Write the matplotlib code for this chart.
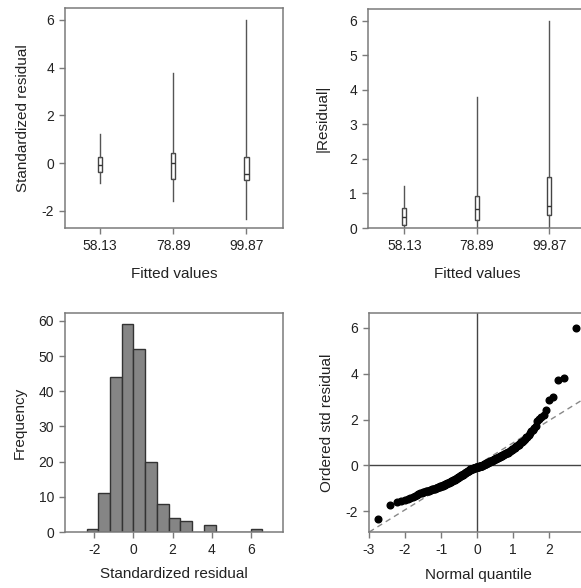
import statistics
import numpy as np
import matplotlib
matplotlib.use("Agg")
import matplotlib.pyplot as plt

# Residual diagnostics: values
fitted_labels = ["58.13", "78.89", "99.87"]

# standardized residual by fitted value (box stats)
std_whislo = [-0.84, -1.60, -2.34]
std_q1 = [-0.39, -0.68, -0.71]
std_med = [-0.08, -0.01, -0.46]
std_q3 = [0.26, 0.41, 0.26]
std_whishi = [1.20, 3.78, 5.97]

# |residual| by fitted value (box stats)
abs_whislo = [0.0, 0.0, 0.0]
abs_q1 = [0.08, 0.22, 0.38]
abs_med = [0.32, 0.55, 0.65]
abs_q3 = [0.58, 0.94, 1.49]
abs_whishi = [1.23, 3.79, 6.00]

# ordered standardized residuals (205 values)
residuals = [
    -2.32,
    -1.73, -1.59, -1.57, -1.50, -1.45, -1.41, -1.37, -1.33, -1.29, -1.25, -1.21,
    -1.19, -1.17, -1.16, -1.14, -1.13, -1.11, -1.10, -1.08, -1.07, -1.05,
    -1.04, -1.03, -1.01, -1.00, -0.99, -0.97, -0.96, -0.95, -0.93, -0.92,
    -0.91, -0.89, -0.88, -0.87, -0.85, -0.84, -0.83, -0.81, -0.80, -0.79,
    -0.77, -0.76, -0.75, -0.73, -0.72, -0.71, -0.69, -0.68, -0.67, -0.66,
    -0.65, -0.64, -0.62, -0.61,
    -0.59, -0.58, -0.56, -0.55, -0.54, -0.52, -0.51, -0.50, -0.48, -0.47,
    -0.46, -0.44, -0.43, -0.42, -0.40, -0.39, -0.38, -0.36, -0.35, -0.34,
    -0.32, -0.31, -0.30, -0.28, -0.27, -0.26, -0.24, -0.23, -0.22, -0.20,
    -0.19, -0.18, -0.17,
    -0.16, -0.15, -0.15, -0.14, -0.13, -0.13, -0.12, -0.11, -0.11, -0.10,
    -0.09, -0.09, -0.08, -0.07, -0.07, -0.06, -0.05, -0.05, -0.04, -0.04,
    -0.03, -0.03, -0.02, -0.02, -0.01, -0.01,
    0.01, 0.02, 0.03, 0.04, 0.05, 0.06, 0.07, 0.08, 0.09, 0.10,
    0.11, 0.12, 0.13, 0.14, 0.15, 0.16, 0.17, 0.18, 0.19, 0.20,
    0.21, 0.22, 0.23, 0.24, 0.25, 0.26, 0.27, 0.28, 0.29, 0.30,
    0.31, 0.32, 0.34, 0.35, 0.36, 0.38, 0.39, 0.40, 0.42, 0.43,
    0.44, 0.46, 0.47, 0.48, 0.50, 0.51, 0.52, 0.54, 0.55, 0.56, 0.58, 0.59,
    0.62, 0.64, 0.66, 0.68, 0.71, 0.73, 0.75, 0.78, 0.80, 0.83,
    0.86, 0.88, 0.91, 0.94, 0.97, 1.00, 1.04, 1.08, 1.12, 1.17,
    1.22, 1.26, 1.32, 1.40, 1.48, 1.56, 1.65, 1.74,
    1.93, 2.04, 2.12, 2.20,
    2.41, 2.86, 2.97,
    3.73, 3.82,
    6.01,
]
bin_edges = [-2.4, -1.8, -1.2, -0.6, 0.0, 0.6, 1.2, 1.8, 2.4, 3.0, 3.6, 4.2,
             4.8, 5.4, 6.0, 6.6]

# dashed reference line on the normal plot
ref_intercept = 0.01
ref_slope = 0.975

plt.rcParams["font.family"] = ["Liberation Sans", "DejaVu Sans"]
plt.rcParams["axes.unicode_minus"] = False

frame_col = "#7a7a7a"
text_col = "#222222"

fig = plt.figure(figsize=(5.81, 5.88), dpi=100)
ax1 = fig.add_axes([0.1119, 0.6122, 0.3752, 0.3741])
ax2 = fig.add_axes([0.6334, 0.6122, 0.3744, 0.3724])
ax3 = fig.add_axes([0.1119, 0.0952, 0.3752, 0.3724])
ax4 = fig.add_axes([0.6351, 0.0952, 0.3752, 0.3724])

for ax in [ax1, ax2, ax3, ax4]:
    for sp in ax.spines.values():
        sp.set_color(frame_col)
        sp.set_linewidth(1.1)
    ax.tick_params(direction="out", length=4, width=1, color=frame_col,
                   labelcolor=text_col, labelsize=10, pad=4)


def box_stats(lo, q1, med, q3, hi):
    stats = []
    for i in range(len(med)):
        stats.append({"whislo": lo[i], "q1": q1[i], "med": med[i],
                      "q3": q3[i], "whishi": hi[i], "fliers": []})
    return stats


box_kw = dict(positions=[1, 2, 3], widths=0.06, showcaps=False, patch_artist=True,
              boxprops=dict(facecolor="white", edgecolor="#444444", linewidth=1),
              whiskerprops=dict(color="#555555", linewidth=1),
              medianprops=dict(color="#333333", linewidth=1))

# Standardized residual vs fitted
ax1.bxp(box_stats(std_whislo, std_q1, std_med, std_q3, std_whishi), **box_kw)
ax1.set_xlim(0.52, 3.5)
ax1.set_ylim(-2.72, 6.49)
ax1.set_xticks([1, 2, 3], fitted_labels)
ax1.set_yticks([-2, 0, 2, 4, 6])
ax1.set_xlabel("Fitted values", fontsize=11, color=text_col, labelpad=10)
ax1.set_ylabel("Standardized residual", fontsize=11, color=text_col, labelpad=8)

# |Residual| vs fitted
ax2.bxp(box_stats(abs_whislo, abs_q1, abs_med, abs_q3, abs_whishi), **box_kw)
ax2.set_xlim(0.5, 3.5)
ax2.set_ylim(0, 6.34)
ax2.set_xticks([1, 2, 3], fitted_labels)
ax2.set_yticks([0, 1, 2, 3, 4, 5, 6])
ax2.set_xlabel("Fitted values", fontsize=11, color=text_col, labelpad=10)
ax2.set_ylabel("|Residual|", fontsize=11, color=text_col, labelpad=14)

# Histogram
ax3.hist(residuals, bins=bin_edges, color="#858585", edgecolor="#333333", linewidth=1)
ax3.set_xlim(-3.5, 7.65)
ax3.set_ylim(0, 62.2)
ax3.set_xticks([-2, 0, 2, 4, 6])
ax3.set_yticks([0, 10, 20, 30, 40, 50, 60])
ax3.set_xlabel("Standardized residual", fontsize=11, color=text_col, labelpad=7)
ax3.set_ylabel("Frequency", fontsize=11, color=text_col, labelpad=8)

# Normal plot
n = len(residuals)
nd = statistics.NormalDist()
quantiles = [nd.inv_cdf((i + 1 - 0.375) / (n + 0.25)) for i in range(n)]
ax4.axhline(0, color="#444444", linewidth=1)
ax4.axvline(0, color="#444444", linewidth=1)
ax4.axline((0, ref_intercept), slope=ref_slope, color="#888888", linewidth=1,
           linestyle=(0, (4, 3)))
ax4.plot(quantiles, sorted(residuals), "o", color="black", markersize=4.8)
ax4.set_xlim(-3, 3.05)
ax4.set_ylim(-2.91, 6.65)
ax4.set_xticks([-3, -2, -1, 0, 1, 2])
ax4.set_yticks([-2, 0, 2, 4, 6])
ax4.set_xlabel("Normal quantile", fontsize=11, color=text_col, labelpad=8)
ax4.set_ylabel("Ordered std residual", fontsize=11, color=text_col, labelpad=8)

fig.savefig("out.png", dpi=100)
